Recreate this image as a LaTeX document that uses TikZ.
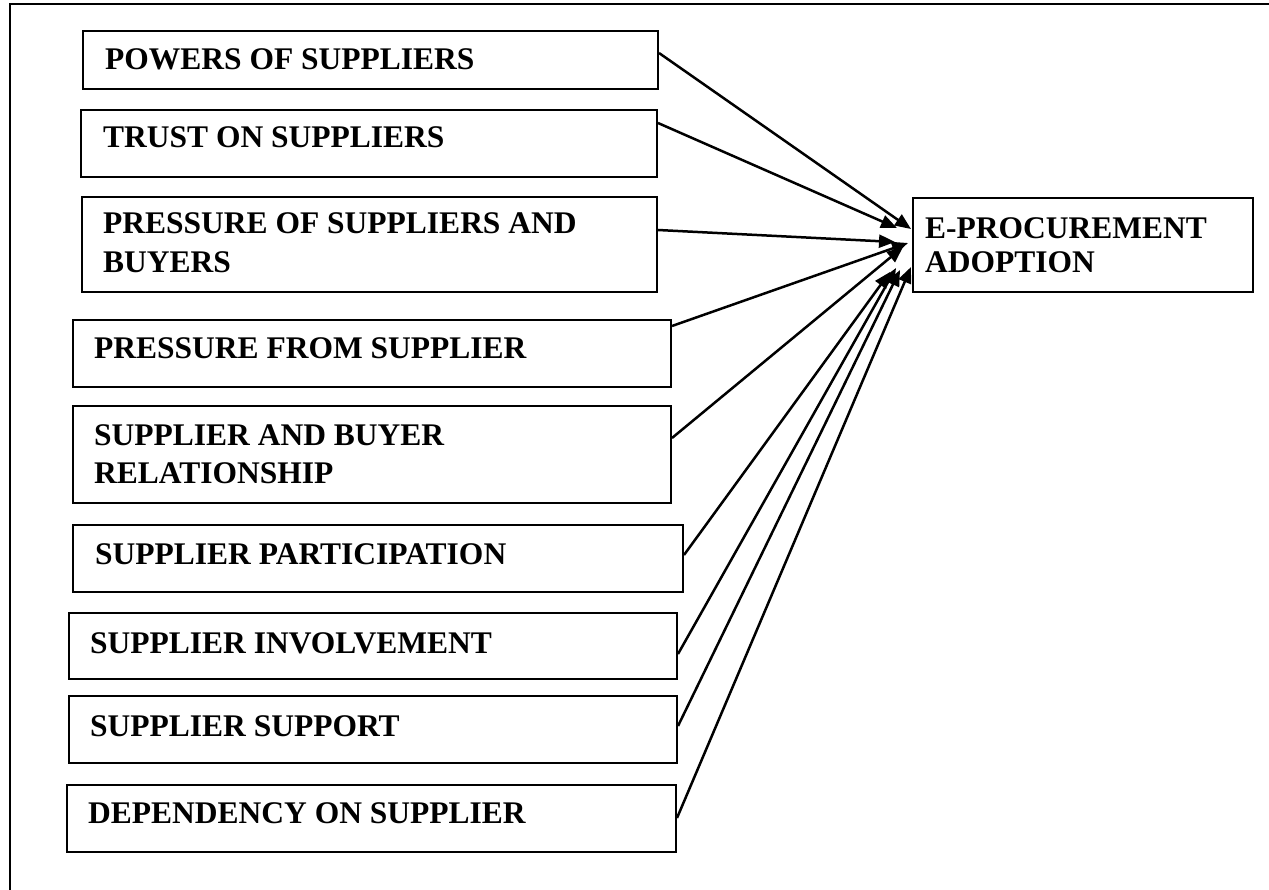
\documentclass[tikz,border=0pt]{standalone}
\usepackage{fontspec}
\setmainfont{Liberation Serif}
\usetikzlibrary{arrows.meta}

\newcommand\twolines[2]{\begin{tabular}[t]{@{}l@{}}#1\\#2\end{tabular}}

\tikzset{
  factor/.style={draw, line width=2pt, inner sep=0pt, anchor=north west},
  caption/.style={anchor=base west, inner sep=0pt, font=\bfseries\fontsize{31.5}{39}\selectfont},
  tcaption/.style={anchor=base west, inner sep=0pt, font=\bfseries\fontsize{31.5}{34}\selectfont},
  link/.style={line width=2.5pt, -{Triangle[length=16pt,width=13pt]}},
  frame/.style={line width=2.6pt},
}

\begin{document}
\begin{tikzpicture}[x=1pt, y=-1pt]
\useasboundingbox (0,0) rectangle (1269,890);

% outer frame (only its top and left sides fall inside the page)
\coordinate (fr) at (1269,4);
\coordinate (fc) at (10,4);
\coordinate (fb) at (10,890);
\draw[frame] (fr) -- (fc) -- (fb);

% factor boxes
\node[factor, minimum width=575pt, minimum height=58pt] (b1) at (82,30) {};
\node[caption] (t1) at (105,70) {POWERS OF SUPPLIERS};

\node[factor, minimum width=576pt, minimum height=67pt] (b2) at (80,109) {};
\node[caption] (t2) at (103,148) {TRUST ON SUPPLIERS};

\node[factor, minimum width=575pt, minimum height=95pt] (b3) at (81,196) {};
\node[caption] (t3) at (103,234) {\twolines{PRESSURE OF SUPPLIERS AND}{BUYERS}};

\node[factor, minimum width=598pt, minimum height=67pt] (b4) at (72,319) {};
\node[caption] (t4) at (94,359) {PRESSURE FROM SUPPLIER};

\node[factor, minimum width=598pt, minimum height=97pt] (b5) at (72,405) {};
\node[caption] (t5) at (94,445) {\twolines{SUPPLIER AND BUYER}{RELATIONSHIP}};

\node[factor, minimum width=610pt, minimum height=67pt] (b6) at (72,524) {};
\node[caption] (t6) at (95,564) {SUPPLIER PARTICIPATION};

\node[factor, minimum width=608pt, minimum height=66pt] (b7) at (68,612) {};
\node[caption] (t7) at (90,653) {SUPPLIER INVOLVEMENT};

\node[factor, minimum width=608pt, minimum height=67pt] (b8) at (68,695) {};
\node[caption] (t8) at (90,736) {SUPPLIER SUPPORT};

\node[factor, minimum width=609pt, minimum height=67pt] (b9) at (66,784) {};
\node[caption] (t9) at (88,823) {DEPENDENCY ON SUPPLIER};

% outcome box
\node[factor, minimum width=340pt, minimum height=94pt] (tgt) at (912,197) {};
\node[tcaption] (tt) at (925,239) {\twolines{E-PROCUREMENT}{ADOPTION}};

% arrows into the outcome box
\draw[link] ([yshift=-23pt]b1.north east) -- ([xshift=-1pt,yshift=-32pt]tgt.north west);
\draw[link] ([yshift=-14pt]b2.north east) -- ([xshift=-15pt,yshift=-31pt]tgt.north west);
\draw[link] ([yshift=-34pt]b3.north east) -- ([xshift=-17pt,yshift=-45pt]tgt.north west);
\draw[link] ([yshift=-7pt]b4.north east) -- ([xshift=-4pt,yshift=-46pt]tgt.north west);
\draw[link] ([yshift=-33pt]b5.north east) -- ([xshift=-9pt,yshift=-50pt]tgt.north west);
\draw[link] ([yshift=-31pt]b6.north east) -- ([xshift=-22pt,yshift=-75pt]tgt.north west);
\draw[link] ([yshift=-42pt]b7.north east) -- ([xshift=-16pt,yshift=-71pt]tgt.north west);
\draw[link] ([yshift=-31pt]b8.north east) -- ([xshift=-12pt,yshift=-73pt]tgt.north west);
\draw[link] ([yshift=-34pt]b9.north east) -- ([xshift=-1pt,yshift=-70pt]tgt.north west);
\end{tikzpicture}
\end{document}
